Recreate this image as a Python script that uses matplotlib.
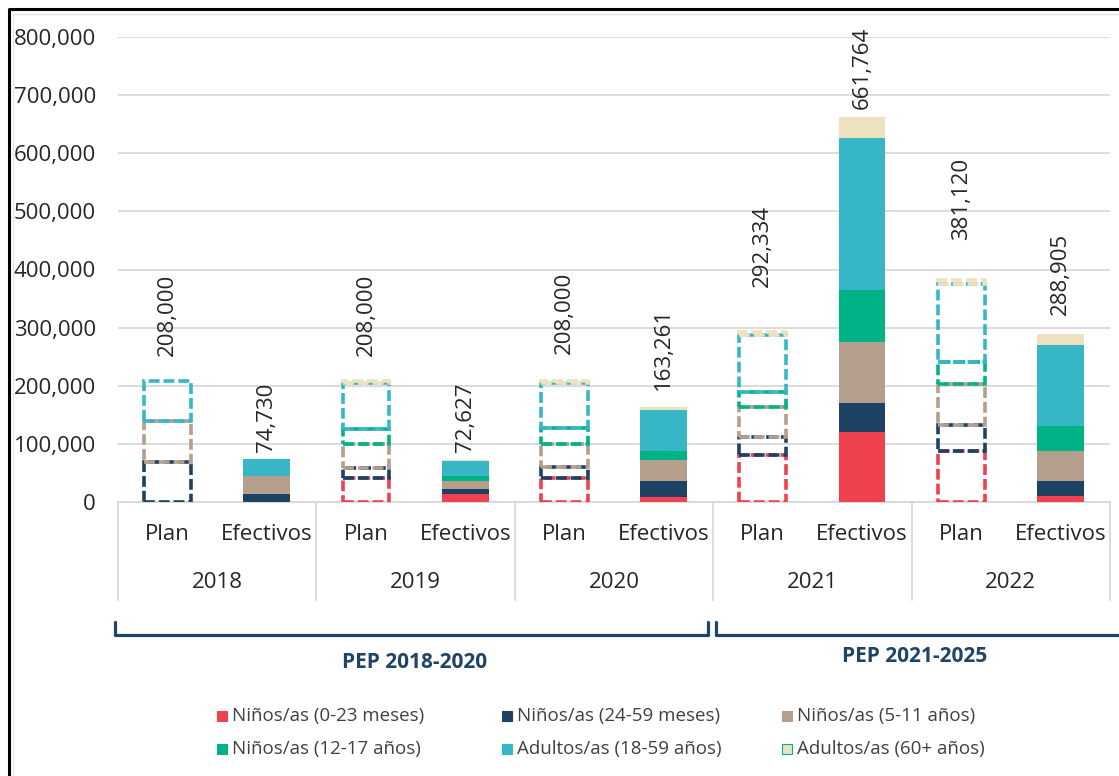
import matplotlib.pyplot as plt
from matplotlib.lines import Line2D
from matplotlib.patches import Rectangle
from matplotlib.ticker import FuncFormatter
import numpy as np

plt.rcParams['font.family'] = ['Open Sans', 'DejaVu Sans']

years = ['2018', '2019', '2020', '2021', '2022']
series_names = ['Niños/as (0-23 meses)', 'Niños/as (24-59 meses)', 'Niños/as (5-11 años)',
                'Niños/as (12-17 años)', 'Adultos/as (18-59 años)', 'Adultos/as (60+ años)']
colors = ['#EF414E', '#1D4263', '#B59E8B', '#00B386', '#37B6C6', '#EDE1BF']

# Plan (por año) por grupo de edad
plan_0_23 = [0, 42000, 42000, 81000, 87000]
plan_24_59 = [69000, 16000, 18000, 31000, 45000]
plan_5_11 = [70000, 42000, 40000, 52000, 71000]
plan_12_17 = [0, 25000, 27000, 26000, 38000]
plan_18_59 = [69000, 79000, 77000, 97000, 134000]
plan_60 = [0, 4000, 4000, 5334, 6120]

# Efectivos
ef_0_23 = [0, 13000, 9000, 121000, 11000]
ef_24_59 = [14000, 9000, 27000, 50000, 25000]
ef_5_11 = [31000, 14000, 36000, 105000, 52000]
ef_12_17 = [0, 9000, 16000, 89000, 43000]
ef_18_59 = [29730, 25500, 70000, 261000, 139000]
ef_60 = [0, 2127, 5261, 35764, 18905]

plan = np.array([plan_0_23, plan_24_59, plan_5_11, plan_12_17, plan_18_59, plan_60])
efec = np.array([ef_0_23, ef_24_59, ef_5_11, ef_12_17, ef_18_59, ef_60])

W, H = 1119, 776
fig = plt.figure(figsize=(W / 100, H / 100), dpi=100, facecolor='white')
ax = fig.add_axes([118 / W, 1 - 502 / H, (1110 - 118) / W, (502 - 37) / H])

x_plan = np.arange(5) * 2
x_ef = x_plan + 1
bw = 0.47
fs = 16

# plan: dashed outlines only
bottom = np.zeros(5)
for i in range(6):
    ls = (0, (3.0, 1.1))
    for j in range(5):
        if plan[i, j] > 0:
            ax.bar(x_plan[j], plan[i, j], bw, bottom=bottom[j], fill=False,
                   edgecolor=colors[i], linewidth=2.6, linestyle=ls, zorder=3)
    bottom += plan[i]

# efectivos: filled
bottom = np.zeros(5)
for i in range(6):
    ax.bar(x_ef, efec[i], bw, bottom=bottom, color=colors[i], linewidth=0, zorder=3)
    bottom += efec[i]

# totals
plan_tot = plan.sum(axis=0)
ef_tot = efec.sum(axis=0)
plan_off = [25, 25, 27, 45, 40]
ef_off = [7, 8, 17, 8, 19]
for j in range(5):
    ax.annotate(f"{plan_tot[j]:,}", (x_plan[j], plan_tot[j]), xytext=(0, plan_off[j]),
                textcoords='offset pixels', rotation=90, ha='center', va='bottom',
                fontsize=fs, color='#262626')
    ax.annotate(f"{ef_tot[j]:,}", (x_ef[j], ef_tot[j]), xytext=(0, ef_off[j]),
                textcoords='offset pixels', rotation=90, ha='center', va='bottom',
                fontsize=fs, color='#262626')

ax.set_xlim(-0.5, 9.5)
ax.set_ylim(0, 800000)
ax.set_yticks(np.arange(0, 800001, 100000))
ax.yaxis.set_major_formatter(FuncFormatter(lambda v, p: f"{int(v):,}"))
ax.tick_params(axis='y', length=0, pad=16, labelsize=fs, labelcolor='#262626')
ax.set_xticks([])
ax.grid(axis='y', color='#D9D9D9', linewidth=1.3, zorder=0)
ax.set_axisbelow(True)
for s in ['top', 'right', 'left']:
    ax.spines[s].set_visible(False)
ax.spines['bottom'].set_color('#D9D9D9')
ax.spines['bottom'].set_linewidth(1.3)

# hierarchical category axis
tr = ax.get_xaxis_transform()
for xs in np.arange(-0.5, 10, 2):
    ax.plot([xs, xs], [0, -98 / 465], color='#D9D9D9', lw=1.3, transform=tr, clip_on=False)
for j in range(5):
    ax.text(x_plan[j], -33 / 465, 'Plan', transform=tr, ha='center', va='center',
            fontsize=fs, color='#262626')
    ax.text(x_ef[j], -33 / 465, 'Efectivos', transform=tr, ha='center', va='center',
            fontsize=fs, color='#262626')
    ax.text(x_plan[j] + 0.5, -80 / 465, years[j], transform=tr, ha='center', va='center',
            fontsize=fs, color='#262626')

# brackets for PEP periods
def fx(px):
    return px / W

def fy(py):
    return 1 - py / H

navy = '#1F4466'
fig.add_artist(Line2D([fx(115), fx(115), fx(708), fx(708)], [fy(622), fy(635), fy(635), fy(622)],
                      color=navy, lw=2.3, solid_capstyle='round', solid_joinstyle='round'))
fig.add_artist(Line2D([fx(716), fx(716), fx(1125)], [fy(622), fy(635), fy(635)],
                      color=navy, lw=2.3, solid_capstyle='round', solid_joinstyle='round'))
fig.text(fx(415), fy(663), 'PEP 2018-2020', ha='center', va='center', fontsize=15,
         fontweight='bold', color=navy)
fig.text(fx(915), fy(656), 'PEP 2021-2025', ha='center', va='center', fontsize=15,
         fontweight='bold', color=navy)

# legend
leg_x = [222, 507, 787]
leg_y = [716, 749]
for i, name in enumerate(series_names):
    cx = leg_x[i % 3]
    cy = leg_y[i // 3]
    ec = '#00B386' if i == 5 else colors[i]
    fig.add_artist(Rectangle((fx(cx - 5), fy(cy + 5)), 10 / W, 10 / H, facecolor=colors[i],
                             edgecolor=ec, linewidth=0.8, transform=fig.transFigure))
    fig.text(fx(cx + 10), fy(cy), name, ha='left', va='center', fontsize=13.5, color='#404040')

# outer frame
fig.add_artist(Line2D([fx(8.5), fx(8.5), fx(1125)], [fy(780), fy(9), fy(9)], color='black', lw=2.2))
fig.add_artist(Line2D([fx(12.5), fx(12.5), fx(1125)], [fy(780), fy(14), fy(14)], color='#E6E6E6', lw=1))

fig.savefig('out.png', dpi=100)
